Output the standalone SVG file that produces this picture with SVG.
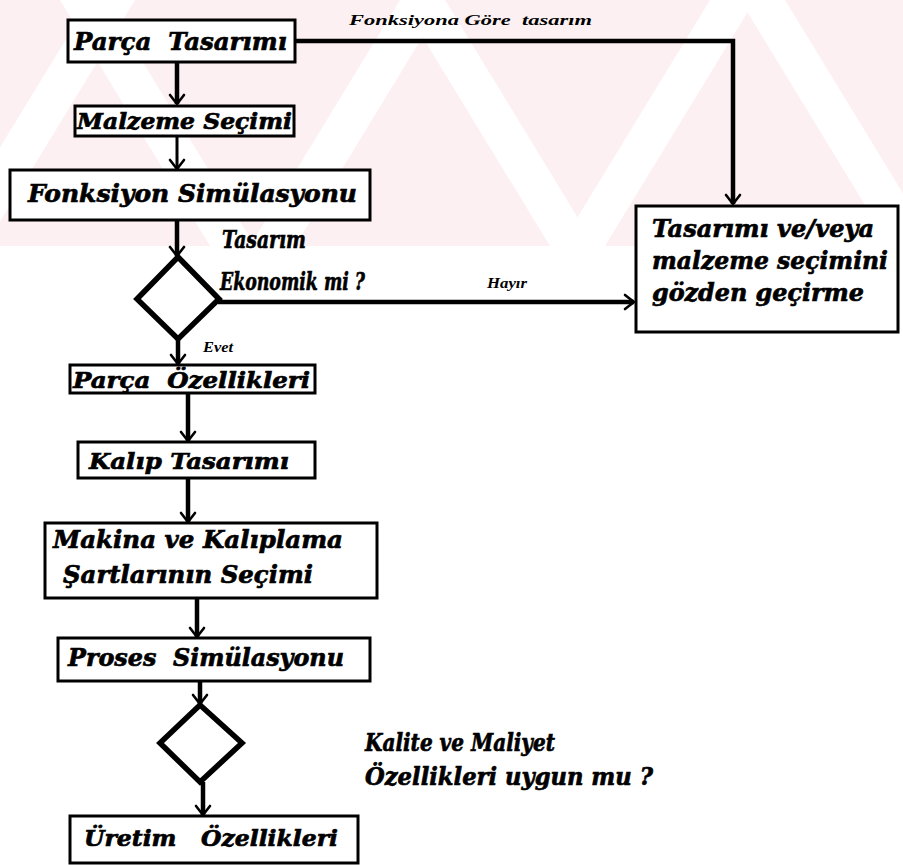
<svg xmlns="http://www.w3.org/2000/svg" width="903" height="865" viewBox="0 0 903 865">
  <defs>
    <marker id="arrow" markerUnits="userSpaceOnUse" markerWidth="24" markerHeight="24" refX="0" refY="0" viewBox="-12 -12 24 24" orient="auto" overflow="visible">
      <path d="M-9,-7 L0,0 L-9,7" fill="none" stroke="#000" stroke-width="2.6" stroke-linecap="round" stroke-linejoin="round"/>
    </marker>
  </defs>
  <style>
    .box { fill: #fff; stroke: #000; stroke-width: 3; }
    .dia { fill: #fff; stroke: #000; stroke-width: 5.5; stroke-linejoin: miter; }
    .wire { fill: none; stroke: #000; stroke-width: 4.5; marker-end: url(#arrow); }
    .thin { stroke-width: 3; }
    text { white-space: pre; }
    .lbl { font-family: "DejaVu Serif", "Liberation Serif", serif; font-weight: bold; font-style: italic; fill: #000; stroke: #000; stroke-width: 0.7; }
    .big { font-size: 25px; }
    .mid { font-size: 23px; }
    .small { font-family: "Liberation Serif", "DejaVu Serif", serif; font-style: italic; font-weight: bold; font-size: 15px; fill: #000; }
    .wm { fill: #fff; }
  </style>

  <rect width="903" height="865" fill="#fff"/>

  <!-- faint background band -->
  <g id="backdrop">
    <rect x="0" y="0" width="903" height="246" fill="#fdf0f2"/>
    <polygon class="wm" points="-60,246 -15,246 135,0 90,0"/>
    <polygon class="wm" points="250,246 295,246 445,0 400,0"/>
    <polygon class="wm" points="560,246 605,246 755,0 710,0"/>
    <polygon class="wm" points="60,0 105,0 255,246 210,246"/>
    <polygon class="wm" points="400,0 445,0 595,246 550,246"/>
    <polygon class="wm" points="740,0 785,0 935,246 890,246"/>
  </g>

  <!-- connectors -->
  <g id="connectors">
    <polyline class="wire" points="296,41 733,41 733,204"/>
    <line class="wire" x1="177" y1="63" x2="177" y2="104"/>
    <line class="wire thin" x1="177" y1="137" x2="177" y2="169"/>
    <line class="wire" x1="177" y1="220" x2="177" y2="256"/>
    <line class="wire" x1="218" y1="302" x2="634" y2="302"/>
    <line class="wire" x1="178" y1="339" x2="178" y2="364"/>
    <line class="wire" x1="188" y1="393" x2="188" y2="441"/>
    <line class="wire" x1="188" y1="478" x2="188" y2="522"/>
    <line class="wire" x1="197" y1="598" x2="197" y2="637"/>
    <line class="wire" x1="200" y1="681" x2="200" y2="704"/>
    <line class="wire" x1="203" y1="782" x2="203" y2="815"/>
    <text class="small" x="349" y="25" textLength="243" lengthAdjust="spacingAndGlyphs">Fonksiyona Göre  tasarım</text>
    <text class="small" x="487" y="288" font-size="16" textLength="40" lengthAdjust="spacingAndGlyphs">Hayır</text>
    <text class="small" x="203" y="352" font-size="14" textLength="30" lengthAdjust="spacingAndGlyphs">Evet</text>
  </g>

  <g id="parca-tasarimi">
    <rect class="box" x="68" y="20" width="227" height="42"/>
    <text class="lbl big" x="74" y="50" textLength="213" lengthAdjust="spacingAndGlyphs">Parça  Tasarımı</text>
  </g>

  <g id="malzeme-secimi">
    <rect class="box" x="75" y="106" width="219" height="30"/>
    <text class="lbl mid" x="77" y="129" textLength="215" lengthAdjust="spacingAndGlyphs">Malzeme Seçimi</text>
  </g>

  <g id="fonksiyon-simulasyonu">
    <rect class="box" x="10" y="170" width="360" height="50"/>
    <text class="lbl big" x="28" y="202" textLength="329" lengthAdjust="spacingAndGlyphs">Fonksiyon Simülasyonu</text>
  </g>

  <g id="karar-ekonomik">
    <polygon class="dia" points="178,257 219,299 178,339 137,299"/>
    <text class="lbl big" x="222" y="248" textLength="84" lengthAdjust="spacingAndGlyphs">Tasarım</text>
    <text class="lbl big" x="220" y="290" textLength="145" lengthAdjust="spacingAndGlyphs">Ekonomik mi ?</text>
  </g>

  <g id="gozden-gecirme">
    <rect class="box" x="636" y="206" width="262" height="126"/>
    <text class="lbl big" x="652" y="237" textLength="222" lengthAdjust="spacingAndGlyphs">Tasarımı ve/veya</text>
    <text class="lbl big" x="652" y="269" textLength="236" lengthAdjust="spacingAndGlyphs">malzeme seçimini</text>
    <text class="lbl big" x="652" y="301" textLength="212" lengthAdjust="spacingAndGlyphs">gözden geçirme</text>
  </g>

  <g id="parca-ozellikleri">
    <rect class="box" x="70" y="365" width="245" height="28"/>
    <text class="lbl mid" x="73" y="388" textLength="237" lengthAdjust="spacingAndGlyphs">Parça  Özellikleri</text>
  </g>

  <g id="kalip-tasarimi">
    <rect class="box" x="78" y="442" width="237" height="36"/>
    <text class="lbl mid" x="89" y="469" textLength="200" lengthAdjust="spacingAndGlyphs">Kalıp Tasarımı</text>
  </g>

  <g id="makina-secimi">
    <rect class="box" x="45" y="523" width="332" height="75"/>
    <text class="lbl big" x="53" y="548" textLength="290" lengthAdjust="spacingAndGlyphs">Makina ve Kalıplama</text>
    <text class="lbl big" x="63" y="583" textLength="250" lengthAdjust="spacingAndGlyphs">Şartlarının Seçimi</text>
  </g>

  <g id="proses-simulasyonu">
    <rect class="box" x="58" y="638" width="312" height="43"/>
    <text class="lbl big" x="68" y="666" textLength="276" lengthAdjust="spacingAndGlyphs">Proses  Simülasyonu</text>
  </g>

  <g id="karar-kalite">
    <polygon class="dia" points="200,705 242,743 200,782 160,743"/>
    <text class="lbl big" x="365" y="751" textLength="190" lengthAdjust="spacingAndGlyphs">Kalite ve Maliyet</text>
    <text class="lbl big" x="365" y="785" textLength="288" lengthAdjust="spacingAndGlyphs">Özellikleri uygun mu ?</text>
  </g>

  <g id="uretim-ozellikleri">
    <rect class="box" x="70" y="816" width="288" height="47"/>
    <text class="lbl mid" x="84" y="846" textLength="254" lengthAdjust="spacingAndGlyphs">Üretim   Özellikleri</text>
  </g>
</svg>
